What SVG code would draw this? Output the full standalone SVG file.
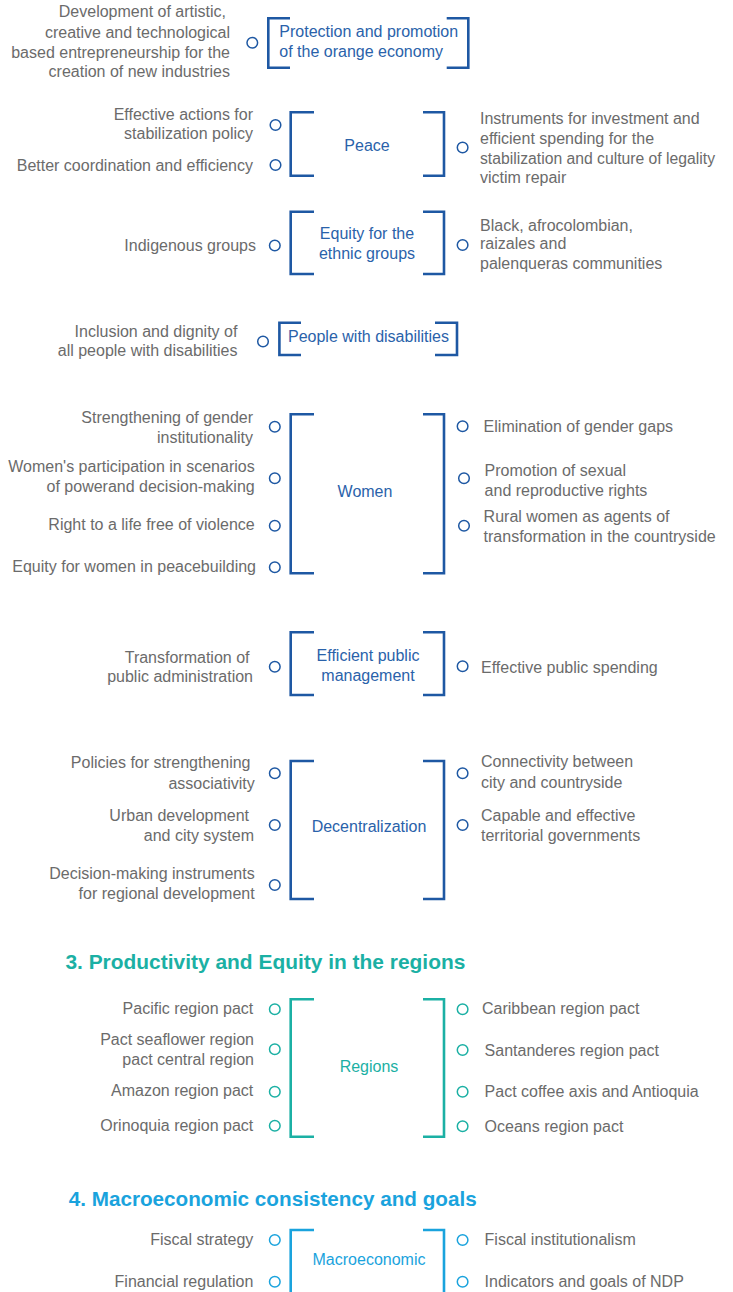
<svg xmlns="http://www.w3.org/2000/svg" width="733" height="1292" viewBox="0 0 733 1292">
<style>
  .t { font-family: "Liberation Sans", Arial, sans-serif; font-size: 16px; fill: #6b6b6b; }
  .l { text-anchor: end; }
  .lbl { font-family: "Liberation Sans", Arial, sans-serif; font-size: 16px; fill: #2a62aa; text-anchor: middle; }
  .lblL { font-family: "Liberation Sans", Arial, sans-serif; font-size: 16px; fill: #2a62aa; }
  .br { fill: none; stroke: #1e58a3; stroke-width: 2.6; }
  .dot { fill: #fff; stroke: #1e58a3; stroke-width: 1.5; }
  .teal .br, .teal .dot { stroke: #1bb0a4; }
  .teal .lbl { fill: #1bb0a4; }
  .cyan .br, .cyan .dot { stroke: #1aa3dd; }
  .cyan .lbl { fill: #1aa3dd; }
  .h { font-family: "Liberation Sans", Arial, sans-serif; font-size: 21px; font-weight: bold; }
</style>
<rect width="733" height="1292" fill="#ffffff"/>

<g id="orange-economy">
  <path class="br" d="M290,18.3 H268.3 V67.7 H290"/>
  <path class="br" d="M446.7,18.3 H468.3 V67.7 H446.7"/>
  <text class="lblL" x="279.3" y="37.3">Protection and promotion</text>
  <text class="lblL" x="279.3" y="57.3">of the orange economy</text>
  <circle class="dot" cx="252.3" cy="42.7" r="5.3"/>
  <text class="t l" x="226" y="17.3">Development of artistic,</text>
  <text class="t l" x="230" y="37.8">creative and technological</text>
  <text class="t l" x="230" y="57.8">based entrepreneurship for the</text>
  <text class="t l" x="230" y="77.2">creation of new industries</text>
</g>

<g id="peace">
  <path class="br" d="M314,112.3 H290.7 V175.7 H314"/>
  <path class="br" d="M423,112.3 H444 V175.7 H423"/>
  <text class="lbl" x="367" y="150.5">Peace</text>
  <circle class="dot" cx="275.5" cy="125" r="5.3"/>
  <circle class="dot" cx="275.5" cy="165" r="5.3"/>
  <circle class="dot" cx="462.6" cy="147.5" r="5.3"/>
  <text class="t l" x="253" y="119.5">Effective actions for</text>
  <text class="t l" x="253" y="138.5">stabilization policy</text>
  <text class="t l" x="253" y="170.5">Better coordination and efficiency</text>
  <text class="t" x="480" y="123.5">Instruments for investment and</text>
  <text class="t" x="480" y="143.5">efficient spending for the</text>
  <text class="t" x="480" y="163.5" textLength="235" lengthAdjust="spacingAndGlyphs">stabilization and culture of legality</text>
  <text class="t" x="480" y="182.5">victim repair</text>
</g>

<g id="ethnic-groups">
  <path class="br" d="M314,211.7 H290.7 V274 H314"/>
  <path class="br" d="M423,211.7 H444 V274 H423"/>
  <text class="lbl" x="367" y="238.5">Equity for the</text>
  <text class="lbl" x="367" y="258.5">ethnic groups</text>
  <circle class="dot" cx="274.8" cy="245.5" r="5.3"/>
  <circle class="dot" cx="462.6" cy="245" r="5.3"/>
  <text class="t l" x="256" y="251.3">Indigenous groups</text>
  <text class="t" x="480" y="230.5">Black, afrocolombian,</text>
  <text class="t" x="480" y="248.5">raizales and</text>
  <text class="t" x="480" y="268.5">palenqueras communities</text>
</g>

<g id="disabilities">
  <path class="br" d="M301,322.7 H279.4 V355 H301"/>
  <path class="br" d="M435,322.7 H457 V355 H435"/>
  <text class="lblL" x="288" y="342.3">People with disabilities</text>
  <circle class="dot" cx="263" cy="341.5" r="5.3"/>
  <text class="t l" x="237.4" y="336.5">Inclusion and dignity of</text>
  <text class="t l" x="237.4" y="356.3">all people with disabilities</text>
</g>

<g id="women">
  <path class="br" d="M314,414.3 H290.7 V573.3 H314"/>
  <path class="br" d="M423,414.3 H444 V573.3 H423"/>
  <text class="lbl" x="365" y="496.5">Women</text>
  <circle class="dot" cx="274.8" cy="426.7" r="5.3"/>
  <circle class="dot" cx="274.8" cy="478.3" r="5.3"/>
  <circle class="dot" cx="274.8" cy="525.7" r="5.3"/>
  <circle class="dot" cx="274.8" cy="567.3" r="5.3"/>
  <circle class="dot" cx="462.6" cy="426.2" r="5.3"/>
  <circle class="dot" cx="464" cy="478.3" r="5.3"/>
  <circle class="dot" cx="464" cy="525.7" r="5.3"/>
  <text class="t l" x="253" y="423.2">Strengthening of gender</text>
  <text class="t l" x="253" y="443.2">institutionality</text>
  <text class="t l" x="254.7" y="472.2">Women's participation in scenarios</text>
  <text class="t l" x="254.7" y="492.2">of powerand decision-making</text>
  <text class="t l" x="254.7" y="529.8">Right to a life free of violence</text>
  <text class="t l" x="256" y="572.2">Equity for women in peacebuilding</text>
  <text class="t" x="483.6" y="431.5">Elimination of gender gaps</text>
  <text class="t" x="484.6" y="475.5">Promotion of sexual</text>
  <text class="t" x="484.6" y="495.5">and reproductive rights</text>
  <text class="t" x="483.6" y="522.2">Rural women as agents of</text>
  <text class="t" x="483.6" y="542.2">transformation in the countryside</text>
</g>

<g id="public-management">
  <path class="br" d="M314,632.3 H290.7 V695 H314"/>
  <path class="br" d="M423,632.3 H444 V695 H423"/>
  <text class="lbl" x="368" y="661.2">Efficient public</text>
  <text class="lbl" x="368" y="680.5">management</text>
  <circle class="dot" cx="274.8" cy="666.7" r="5.3"/>
  <circle class="dot" cx="462.6" cy="666.2" r="5.3"/>
  <text class="t l" x="249.5" y="662.8">Transformation of</text>
  <text class="t l" x="253" y="682.2">public administration</text>
  <text class="t" x="481" y="672.8">Effective public spending</text>
</g>

<g id="decentralization">
  <path class="br" d="M314,761 H290.7 V899 H314"/>
  <path class="br" d="M423,761 H444 V899 H423"/>
  <text class="lbl" x="369" y="832.2">Decentralization</text>
  <circle class="dot" cx="274.8" cy="773.3" r="5.3"/>
  <circle class="dot" cx="274.8" cy="825" r="5.3"/>
  <circle class="dot" cx="274.8" cy="885" r="5.3"/>
  <circle class="dot" cx="462.6" cy="773.3" r="5.3"/>
  <circle class="dot" cx="462.6" cy="825" r="5.3"/>
  <text class="t l" x="250.5" y="767.8">Policies for strengthening</text>
  <text class="t l" x="254.7" y="788.8">associativity</text>
  <text class="t l" x="249" y="821.2">Urban development</text>
  <text class="t l" x="254" y="841.2">and city system</text>
  <text class="t l" x="254.7" y="878.8">Decision-making instruments</text>
  <text class="t l" x="254.7" y="898.8">for regional development</text>
  <text class="t" x="481" y="767.2">Connectivity between</text>
  <text class="t" x="481" y="787.8">city and countryside</text>
  <text class="t" x="481" y="821.2">Capable and effective</text>
  <text class="t" x="481" y="840.5">territorial governments</text>
</g>

<text id="heading-3" class="h" x="65.4" y="968.5" fill="#1bb0a4" textLength="400" lengthAdjust="spacingAndGlyphs">3. Productivity and Equity in the regions</text>

<g id="regions" class="teal">
  <path class="br" d="M314,999.3 H290.7 V1136.7 H314"/>
  <path class="br" d="M423,999.3 H444 V1136.7 H423"/>
  <text class="lbl" x="369" y="1071.5">Regions</text>
  <circle class="dot" cx="274.8" cy="1009.3" r="5.3"/>
  <circle class="dot" cx="274.8" cy="1049.3" r="5.3"/>
  <circle class="dot" cx="274.8" cy="1091.7" r="5.3"/>
  <circle class="dot" cx="274.8" cy="1125.7" r="5.3"/>
  <circle class="dot" cx="462.6" cy="1009.3" r="5.3"/>
  <circle class="dot" cx="462.6" cy="1050" r="5.3"/>
  <circle class="dot" cx="462.6" cy="1091.7" r="5.3"/>
  <circle class="dot" cx="462.6" cy="1126.2" r="5.3"/>
  <text class="t l" x="253.3" y="1013.8">Pacific region pact</text>
  <text class="t l" x="254" y="1044.8">Pact seaflower region</text>
  <text class="t l" x="254" y="1064.8">pact central region</text>
  <text class="t l" x="253.3" y="1096.2">Amazon region pact</text>
  <text class="t l" x="253.3" y="1131.2">Orinoquia region pact</text>
  <text class="t" x="482" y="1013.8">Caribbean region pact</text>
  <text class="t" x="484.6" y="1056.2">Santanderes region pact</text>
  <text class="t" x="484.6" y="1097.2">Pact coffee axis and Antioquia</text>
  <text class="t" x="484.6" y="1132.2">Oceans region pact</text>
</g>

<text id="heading-4" class="h" x="68.7" y="1205.8" fill="#1aa3dd" textLength="408" lengthAdjust="spacingAndGlyphs">4. Macroeconomic consistency and goals</text>

<g id="macroeconomic" class="cyan">
  <path class="br" d="M314,1230 H290.7 V1300"/>
  <path class="br" d="M423,1230 H444 V1300"/>
  <text class="lbl" x="369" y="1264.8">Macroeconomic</text>
  <circle class="dot" cx="274.8" cy="1240" r="5.3"/>
  <circle class="dot" cx="274.8" cy="1281.7" r="5.3"/>
  <circle class="dot" cx="462.6" cy="1240" r="5.3"/>
  <circle class="dot" cx="462.6" cy="1281.7" r="5.3"/>
  <text class="t l" x="253.3" y="1244.8">Fiscal strategy</text>
  <text class="t l" x="253.3" y="1287.2">Financial regulation</text>
  <text class="t" x="484.6" y="1244.8">Fiscal institutionalism</text>
  <text class="t" x="484.6" y="1287.2">Indicators and goals of NDP</text>
</g>
</svg>
